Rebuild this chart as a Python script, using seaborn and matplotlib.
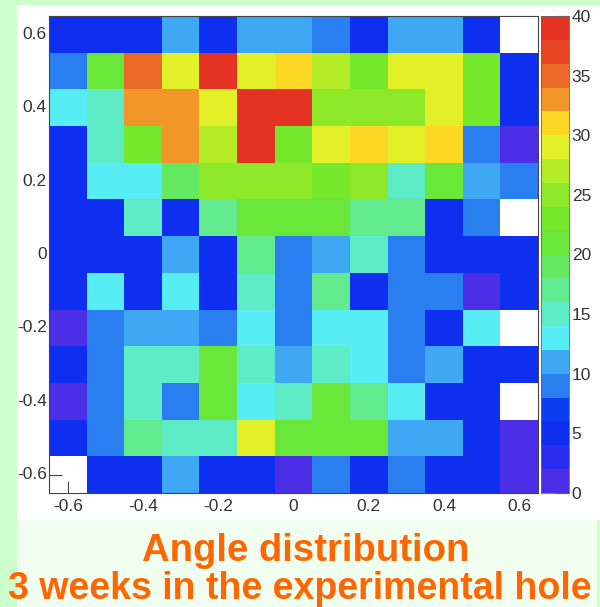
import numpy as np
import pandas as pd
import matplotlib
matplotlib.use("Agg")
import matplotlib.pyplot as plt
import seaborn as sns
from matplotlib.colors import ListedColormap, BoundaryNorm
from matplotlib.patches import Rectangle

# ---------------- data ----------------
x_centers = [-0.6, -0.5, -0.4, -0.3, -0.2, -0.1, 0.0, 0.1, 0.2, 0.3, 0.4, 0.5, 0.6]
y_centers = [0.6, 0.5, 0.4, 0.3, 0.2, 0.1, 0.0, -0.1, -0.2, -0.3, -0.4, -0.5, -0.6]

row_p06 = [5, 5, 5, 11, 5, 11, 11, 9, 5, 11, 11, 5, 0]
row_p05 = [9, 21, 35, 29, 38, 28, 31, 26, 23, 29, 29, 22, 5]
row_p04 = [13, 15, 33, 33, 29, 39, 39, 24, 24, 24, 29, 22, 5]
row_p03 = [5, 15, 23, 33, 26, 39, 23, 29, 31, 29, 31, 9, 1]
row_p02 = [5, 13, 13, 19, 25, 24, 25, 22, 25, 15, 21, 11, 9]
row_p01 = [5, 5, 15, 5, 17, 20, 21, 21, 17, 17, 5, 9, 0]
row_000 = [5, 5, 5, 11, 5, 17, 9, 11, 15, 9, 5, 5, 5]
row_m01 = [5, 13, 5, 13, 5, 15, 9, 17, 5, 9, 9, 1, 5]
row_m02 = [1, 9, 11, 11, 9, 13, 9, 13, 13, 9, 5, 13, 0]
row_m03 = [5, 9, 15, 15, 21, 15, 11, 15, 13, 9, 11, 5, 5]
row_m04 = [1, 9, 15, 9, 21, 13, 15, 21, 17, 13, 5, 5, 0]
row_m05 = [5, 9, 17, 15, 15, 29, 21, 21, 21, 11, 11, 5, 1]
row_m06 = [0, 5, 5, 11, 5, 5, 1, 9, 5, 9, 5, 5, 1]

x_tick_values = [-0.6, -0.4, -0.2, 0.0, 0.2, 0.4, 0.6]
x_tick_labels = ["-0.6", "-0.4", "-0.2", "0", "0.2", "0.4", "0.6"]
y_tick_values = [0.6, 0.4, 0.2, 0.0, -0.2, -0.4, -0.6]
y_tick_labels = ["0.6", "0.4", "0.2", "0", "-0.2", "-0.4", "-0.6"]
cbar_tick_values = [0, 5, 10, 15, 20, 25, 30, 35, 40]
level_edges = list(range(0, 42, 2))

title_line1 = "Angle distribution"
title_line2 = "3 weeks in the experimental hole"

# ROOT-like rainbow palette, 20 contour levels
palette_colors = [
    "#4b2ee6", "#2a2cf0", "#0e2ef0", "#0c3ef0", "#2a7ff0",
    "#3ea8f4", "#56eef4", "#5eecc6", "#62ea8e", "#64e862",
    "#6ae83a", "#76e82c", "#8ee82a", "#b4ec28", "#e2f028",
    "#fcd824", "#f2962a", "#ec6a28", "#e84424", "#e43222",
]

# ---------------- figure ----------------
W, H = 600, 607
sns.set_theme(style="white")
plt.rcParams["font.family"] = ["Liberation Sans", "DejaVu Sans"]
plt.rcParams["axes.unicode_minus"] = False

fig = plt.figure(figsize=(W / 100, H / 100), dpi=100, facecolor="#ccffcc")
fig.patches.append(Rectangle((17 / W, 1 - 520 / H), (W - 17) / W, 515 / H,
                             transform=fig.transFigure, facecolor="white",
                             edgecolor="none", zorder=-10))
fig.patches.append(Rectangle((17 / W, 0), 580 / W, 87 / H,
                             transform=fig.transFigure, facecolor="#f0fff0",
                             edgecolor="none", zorder=-10))

ax = fig.add_axes([49 / W, 1 - 493 / H, 489 / W, 477 / H])
cax = fig.add_axes([541 / W, 1 - 493 / H, 28 / W, 477 / H])

counts = np.array([row_p06, row_p05, row_p04, row_p03, row_p02, row_p01, row_000,
                   row_m01, row_m02, row_m03, row_m04, row_m05, row_m06], dtype=float)
df = pd.DataFrame(counts, index=y_centers, columns=x_centers)

cmap = ListedColormap(palette_colors)
norm = BoundaryNorm(level_edges, cmap.N)

sns.heatmap(df, mask=(df == 0), cmap=cmap, norm=norm, ax=ax, cbar=True,
            cbar_ax=cax, linewidths=0)
ax.set_facecolor("white")
ax.set_xlabel("")
ax.set_ylabel("")

# map data values to heatmap cell coordinates
col_pos = np.arange(len(x_centers)) + 0.5
row_pos = np.arange(len(y_centers)) + 0.5
def xpos(v):
    return np.interp(v, x_centers, col_pos)
def ypos(v):
    return np.interp(v, y_centers[::-1], row_pos[::-1])

ax.set_xticks([xpos(v) for v in x_tick_values])
ax.set_xticklabels(x_tick_labels, rotation=0)
ax.set_yticks([ypos(v) for v in y_tick_values])
ax.set_yticklabels(y_tick_labels, rotation=0)
ax.set_xticks([xpos(v) for v in x_centers], minor=True)
ax.set_yticks([ypos(v) for v in y_centers], minor=True)

lab_col = "#333333"
ax.tick_params(axis="x", which="major", bottom=True, direction="in", length=9,
               width=0.8, color="#444444", pad=4.5, labelsize=12.5, labelcolor=lab_col)
ax.tick_params(axis="y", which="major", left=True, direction="in", length=9,
               width=0.8, color="#444444", pad=1.5, labelsize=12.5, labelcolor=lab_col)
ax.tick_params(which="minor", bottom=True, left=True, direction="in", length=5,
               width=0.8, color="#444444")
for s in ax.spines.values():
    s.set_visible(True)
    s.set_color("#444444")
    s.set_linewidth(0.8)

cbar = ax.collections[0].colorbar
cbar.set_ticks(cbar_tick_values)
cbar.set_ticklabels([str(v) for v in cbar_tick_values])
cax.yaxis.set_ticks_position("right")
cax.tick_params(direction="in", length=10, width=0.8, color="#444444", pad=2,
                labelsize=12.5, labelcolor=lab_col, right=True)
cax.minorticks_off()
cbar.outline.set_edgecolor("#666666")
cbar.outline.set_linewidth(0.6)

fig.text(306 / W, 1 - 561 / H, title_line1, ha="center", va="baseline",
         fontsize=27.5, fontweight="bold", color="#ff6600")
fig.text(300 / W, 1 - 599 / H, title_line2, ha="center", va="baseline",
         fontsize=27, fontweight="bold", color="#ff6600")

fig.savefig("out.png", dpi=100, facecolor=fig.get_facecolor())
